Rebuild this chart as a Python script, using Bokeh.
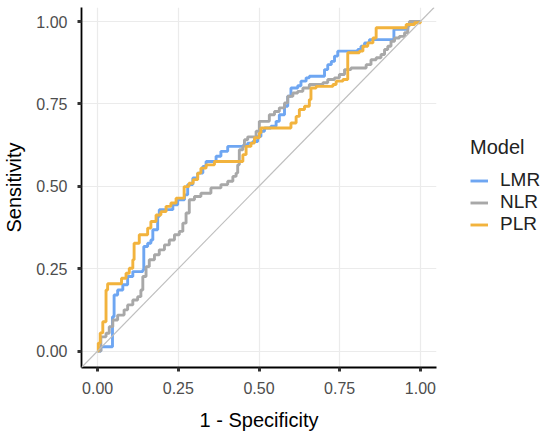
from bokeh.plotting import figure
from bokeh.models import Range1d, FixedTicker, NumeralTickFormatter, Slope, Legend, LegendItem
from bokeh.embed import file_html
from bokeh.resources import INLINE

# ROC curve data (1 - Specificity, Sensitivity)
lmr_fpr = [0, 0.005, 0.010, 0.046, 0.046, 0.051, 0.062, 0.078, 0.093, 0.109, 0.140, 0.143, 0.155,
           0.165, 0.171, 0.186, 0.191, 0.217, 0.233, 0.248, 0.269, 0.279, 0.295, 0.310, 0.326, 0.336,
           0.367, 0.382, 0.403, 0.450, 0.465, 0.481, 0.496, 0.506, 0.517, 0.537, 0.553, 0.563, 0.579,
           0.589, 0.599, 0.620, 0.630, 0.646, 0.656, 0.677, 0.703, 0.713, 0.724, 0.734, 0.744, 0.806,
           0.816, 0.827, 0.842, 0.915, 0.918, 0.951, 0.961, 0.971, 1.0]
lmr_tpr = [0, 0, 0.013, 0.013, 0.104, 0.170, 0.185, 0.201, 0.226, 0.241, 0.246, 0.317, 0.327,
           0.337, 0.368, 0.408, 0.429, 0.429, 0.444, 0.459, 0.474, 0.505, 0.525, 0.540, 0.560, 0.575,
           0.591, 0.606, 0.621, 0.624, 0.631, 0.636, 0.651, 0.667, 0.677, 0.682, 0.697, 0.717, 0.743,
           0.773, 0.798, 0.805, 0.819, 0.829, 0.834, 0.834, 0.854, 0.869, 0.879, 0.895, 0.910, 0.915,
           0.925, 0.935, 0.945, 0.945, 0.976, 0.976, 0.991, 1.0, 1.0]

nlr_fpr = [0, 0.010, 0.026, 0.036, 0.047, 0.062, 0.082, 0.093, 0.109, 0.124, 0.134, 0.140, 0.150,
           0.160, 0.176, 0.191, 0.207, 0.222, 0.238, 0.253, 0.264, 0.274, 0.284, 0.300, 0.320, 0.351,
           0.382, 0.403, 0.419, 0.429, 0.434, 0.439, 0.450, 0.455, 0.465, 0.491, 0.501, 0.522, 0.532,
           0.548, 0.563, 0.579, 0.589, 0.605, 0.620, 0.636, 0.656, 0.698, 0.713, 0.734, 0.749, 0.765,
           0.785, 0.822, 0.832, 0.847, 0.863, 0.878, 0.889, 0.899, 0.909, 0.920, 0.935, 0.951, 0.961,
           0.966, 1.0]
nlr_tpr = [0, 0.043, 0.054, 0.074, 0.094, 0.109, 0.125, 0.140, 0.155, 0.165, 0.185, 0.226, 0.256,
           0.277, 0.292, 0.307, 0.322, 0.337, 0.353, 0.363, 0.388, 0.419, 0.459, 0.469, 0.479, 0.495,
           0.505, 0.515, 0.530, 0.540, 0.565, 0.611, 0.621, 0.641, 0.650, 0.667, 0.697, 0.697, 0.717,
           0.727, 0.738, 0.753, 0.773, 0.783, 0.788, 0.798, 0.809, 0.814, 0.824, 0.829, 0.839, 0.854,
           0.859, 0.859, 0.869, 0.884, 0.890, 0.900, 0.915, 0.925, 0.940, 0.950, 0.955, 0.966, 0.986,
           1.0, 1.0]

plr_fpr = [0, 0.002, 0.008, 0.016, 0.026, 0.031, 0.072, 0.074, 0.088, 0.098, 0.109, 0.113, 0.129,
           0.150, 0.155, 0.165, 0.181, 0.196, 0.212, 0.227, 0.243, 0.264, 0.268, 0.283, 0.296, 0.310,
           0.320, 0.336, 0.362, 0.444, 0.450, 0.460, 0.475, 0.486, 0.501, 0.506, 0.594, 0.599, 0.615,
           0.625, 0.641, 0.656, 0.661, 0.677, 0.729, 0.739, 0.760, 0.775, 0.775, 0.811, 0.822, 0.837,
           0.853, 0.863, 0.951, 0.956, 0.982, 1.0]
plr_tpr = [0, 0.024, 0.055, 0.089, 0.185, 0.204, 0.204, 0.221, 0.236, 0.251, 0.277, 0.327, 0.353,
           0.353, 0.373, 0.393, 0.413, 0.423, 0.439, 0.449, 0.464, 0.464, 0.499, 0.509, 0.520, 0.540,
           0.555, 0.565, 0.575, 0.575, 0.596, 0.621, 0.631, 0.647, 0.662, 0.677, 0.677, 0.692, 0.712,
           0.733, 0.743, 0.763, 0.798, 0.803, 0.809, 0.819, 0.824, 0.834, 0.905, 0.910, 0.925, 0.935,
           0.950, 0.981, 0.981, 0.991, 0.996, 1.0]

models = ["LMR", "NLR", "PLR"]
colors = ["#6EA6F2", "#A8A8A8", "#F2B33D"]
ticks = [0, 0.25, 0.5, 0.75, 1.0]

FONT = "Liberation Sans"

p = figure(frame_width=355, frame_height=360, min_border_left=73, min_border_right=0,
           min_border_top=7, min_border_bottom=63, title=None,
           x_range=Range1d(-0.05, 1.05), y_range=Range1d(-0.05, 1.0425),
           output_backend="svg", toolbar_location=None)
p.outline_line_color = None
p.background_fill_color = "white"

for ax in (p.xaxis, p.yaxis):
    ax.ticker = FixedTicker(ticks=ticks)
    ax.formatter = NumeralTickFormatter(format="0.00")
    ax.axis_line_color = "black"
    ax.axis_line_width = 1.8
    ax.major_tick_line_color = "#333333"
    ax.major_tick_line_width = 3
    ax.major_tick_out = 4
    ax.major_tick_in = 0
    ax.minor_tick_line_color = None
    ax.major_label_text_font = FONT
    ax.major_label_text_font_size = "16px"
    ax.major_label_text_color = "#4D4D4D"
    ax.axis_label_text_font = FONT
    ax.axis_label_text_font_size = "20px"
    ax.axis_label_text_font_style = "normal"
    ax.axis_label_text_color = "black"

p.xaxis.axis_label = "1 - Specificity"
p.yaxis.axis_label = "Sensitivity"
p.xaxis.major_label_standoff = 10
p.yaxis.major_label_standoff = 10
p.xaxis.axis_label_standoff = 12
p.yaxis.axis_label_standoff = 8

p.xgrid.ticker = FixedTicker(ticks=ticks)
p.ygrid.ticker = FixedTicker(ticks=ticks)
p.xgrid.grid_line_color = "#EBEBEB"
p.ygrid.grid_line_color = "#EBEBEB"
p.xgrid.grid_line_width = 1.2
p.ygrid.grid_line_width = 1.2

p.add_layout(Slope(gradient=1, y_intercept=0, line_color="#BEBEBE", line_width=1.1))

series = [(lmr_fpr, lmr_tpr), (nlr_fpr, nlr_tpr), (plr_fpr, plr_tpr)]
items = []
for (fx, ty), name, col in zip(series, models, colors):
    r = p.step(fx, ty, mode="after", line_color=col, line_width=2.9)
    items.append(LegendItem(label=name, renderers=[r]))

legend = Legend(items=items, location=(34, 132), title="Model",
                title_text_font=FONT, title_text_font_size="20px", title_text_color="#222222",
                title_text_font_style="normal", title_standoff=10,
                label_text_font=FONT, label_text_font_size="19px", label_text_color="#222222",
                glyph_width=18, glyph_height=19, label_height=19, spacing=-1,
                label_standoff=12, padding=0, margin=34,
                border_line_color=None, background_fill_alpha=0)
p.add_layout(legend, "right")

open("out.html", "w").write(file_html(p, INLINE))
